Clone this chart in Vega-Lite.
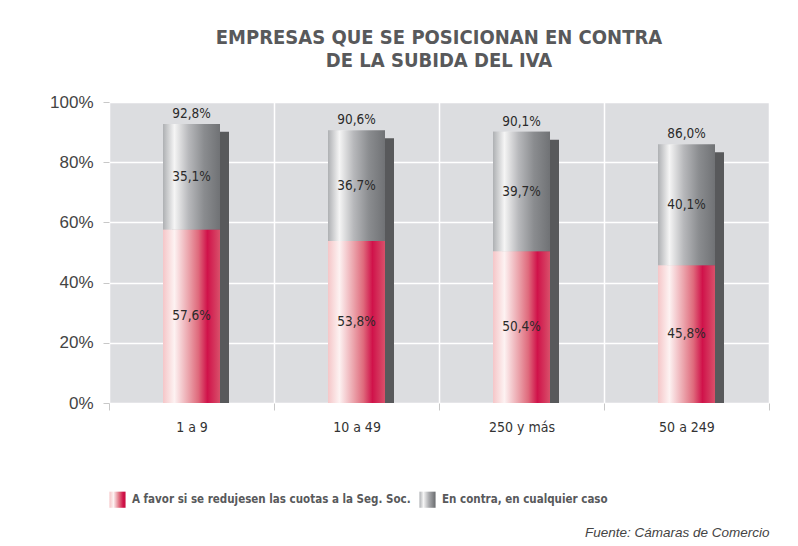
{
  "$schema": "https://vega.github.io/schema/vega-lite/v6.json",
  "background": "white",
  "padding": {"left": 49, "top": 28, "right": 25, "bottom": 8},
  "config": {
    "locale": {"number": {"decimal": ",", "thousands": ".", "grouping": [3], "currency": ["", " €"]}},
    "view": {"fill": "#dcdde0", "stroke": null},
    "axis": {"domain": false}
  },
  "title": {"text": "Fuente: Cámaras de Comercio", "orient": "bottom", "anchor": "end", "font": "Liberation Sans", "fontStyle": "italic", "fontWeight": "normal", "fontSize": 13.5, "color": "#444444", "offset": 18},
  "datasets": {
    "shares": [
      {"cat": "1 a 9", "series": "A favor si se redujesen las cuotas a la Seg. Soc.", "value": 0.576},
      {"cat": "1 a 9", "series": "En contra, en cualquier caso", "value": 0.351},
      {"cat": "10 a 49", "series": "A favor si se redujesen las cuotas a la Seg. Soc.", "value": 0.538},
      {"cat": "10 a 49", "series": "En contra, en cualquier caso", "value": 0.367},
      {"cat": "250 y más", "series": "A favor si se redujesen las cuotas a la Seg. Soc.", "value": 0.504},
      {"cat": "250 y más", "series": "En contra, en cualquier caso", "value": 0.397},
      {"cat": "50 a 249", "series": "A favor si se redujesen las cuotas a la Seg. Soc.", "value": 0.458},
      {"cat": "50 a 249", "series": "En contra, en cualquier caso", "value": 0.401}
    ],
    "totals": [
      {"cat": "1 a 9", "total": 0.928},
      {"cat": "10 a 49", "total": 0.906},
      {"cat": "250 y más", "total": 0.901},
      {"cat": "50 a 249", "total": 0.860}
    ]
  },
  "vconcat": [
    {
      "width": 660,
      "height": 301,
      "title": {"text": ["EMPRESAS QUE SE POSICIONAN EN CONTRA", "DE LA SUBIDA DEL IVA"], "frame": "group", "anchor": "middle", "font": "DejaVu Sans Condensed", "fontSize": 20, "fontWeight": "bold", "color": "#58595b", "lineHeight": 23, "offset": 22},
      "layer": [
        {
          "data": {"name": "totals"},
          "mark": {"type": "bar", "width": 57, "xOffset": 9, "yOffset": 8, "clip": true, "color": "#58595b"},
          "encoding": {
            "x": {"field": "cat", "type": "nominal", "title": null, "sort": ["1 a 9", "10 a 49", "250 y más", "50 a 249"],
                  "scale": {"paddingInner": 0, "paddingOuter": 0},
                  "axis": {"grid": true, "tickBand": "extent", "gridColor": "white", "gridWidth": 1.5, "labelAngle": 0, "labelFont": "DejaVu Sans Condensed", "labelFontSize": 14, "labelColor": "#333333", "tickColor": "#c8c8c8", "tickSize": 7, "labelPadding": 10}},
            "y": {"field": "total", "type": "quantitative", "title": null, "scale": {"domain": [0, 1]},
                  "axis": {"values": [0, 0.2, 0.4, 0.6, 0.8, 1], "format": ".0%", "gridColor": "white", "gridWidth": 1.5, "labelFont": "Liberation Sans", "labelFontSize": 17, "labelColor": "#444444", "tickColor": "#c8c8c8", "tickSize": 6, "labelPadding": 10}}
          }
        },
        {
          "data": {"name": "shares"},
          "mark": {"type": "bar", "width": 57},
          "encoding": {
            "x": {"field": "cat", "type": "nominal", "title": null, "sort": ["1 a 9", "10 a 49", "250 y más", "50 a 249"]},
            "y": {"field": "value", "type": "quantitative", "title": null, "stack": "zero"},
            "order": {"field": "series", "sort": "ascending"},
            "color": {"field": "series", "type": "nominal", "title": null,
              "scale": {"domain": ["A favor si se redujesen las cuotas a la Seg. Soc.", "En contra, en cualquier caso"],
                "range": [
                  {"expr": "{gradient: 'linear', x1: 0, y1: 0, x2: 1, y2: 0, stops: [{offset: 0, color: '#f5c6c8'}, {offset: 0.25, color: '#fdf2f2'}, {offset: 0.6, color: '#e07080'}, {offset: 0.85, color: '#d0124a'}, {offset: 1, color: '#c81040'}]}"},
                  {"expr": "{gradient: 'linear', x1: 0, y1: 0, x2: 1, y2: 0, stops: [{offset: 0, color: '#aeb0b3'}, {offset: 0.25, color: '#f5f5f5'}, {offset: 0.6, color: '#a8a9ac'}, {offset: 1, color: '#6a6c6f'}]}"}
                ]},
              "legend": {"orient": "bottom", "direction": "horizontal", "title": null, "symbolType": "square", "symbolSize": 260, "symbolStrokeWidth": 0,
                "labelFont": "DejaVu Sans Condensed", "labelFontWeight": "bold", "labelFontSize": 11.5, "labelColor": "#58595b", "labelLimit": 400, "columnPadding": 8, "labelOffset": 6, "offset": 57}}
          }
        },
        {
          "data": {"name": "shares"},
          "transform": [
            {"stack": "value", "groupby": ["cat"], "sort": [{"field": "series", "order": "ascending"}], "as": ["v0", "v1"]},
            {"filter": "indexof(datum.series, 'A favor') === 0"}
          ],
          "mark": {"type": "bar", "width": 57, "color": {"gradient": "linear", "x1": 0, "y1": 0, "x2": 1, "y2": 0, "stops": [
                    {"offset": 0, "color": "#f5c6c8"}, {"offset": 0.2, "color": "#fdf2f2"}, {"offset": 0.45, "color": "#eba3ab"},
                    {"offset": 0.62, "color": "#df6a7c"}, {"offset": 0.78, "color": "#d0124a"}, {"offset": 1, "color": "#d8506a"}]}},
          "encoding": {
            "x": {"field": "cat", "type": "nominal", "title": null, "sort": ["1 a 9", "10 a 49", "250 y más", "50 a 249"]},
            "y": {"field": "v1", "type": "quantitative", "title": null},
            "y2": {"field": "v0"}
          }
        },
        {
          "data": {"name": "shares"},
          "transform": [
            {"stack": "value", "groupby": ["cat"], "sort": [{"field": "series", "order": "ascending"}], "as": ["v0", "v1"]},
            {"filter": "indexof(datum.series, 'En contra') === 0"}
          ],
          "mark": {"type": "bar", "width": 57, "color": {"gradient": "linear", "x1": 0, "y1": 0, "x2": 1, "y2": 0, "stops": [
                    {"offset": 0, "color": "#aeb0b3"}, {"offset": 0.2, "color": "#f5f5f5"}, {"offset": 0.45, "color": "#b7b8bb"},
                    {"offset": 0.72, "color": "#8a8c8f"}, {"offset": 1, "color": "#707275"}]}},
          "encoding": {
            "x": {"field": "cat", "type": "nominal", "title": null, "sort": ["1 a 9", "10 a 49", "250 y más", "50 a 249"]},
            "y": {"field": "v1", "type": "quantitative", "title": null},
            "y2": {"field": "v0"}
          }
        },
        {
          "data": {"name": "shares"},
          "transform": [
            {"stack": "value", "groupby": ["cat"], "sort": [{"field": "series", "order": "ascending"}], "as": ["v0", "v1"]},
            {"fold": ["v0", "v1"], "as": ["edge", "pos"]},
            {"aggregate": [{"op": "mean", "field": "pos", "as": "mid"}], "groupby": ["cat", "series", "value"]}
          ],
          "mark": {"type": "text", "font": "DejaVu Sans Condensed", "fontSize": 13.5, "color": "#2a2a2a", "baseline": "middle"},
          "encoding": {
            "x": {"field": "cat", "type": "nominal", "title": null, "sort": ["1 a 9", "10 a 49", "250 y más", "50 a 249"]},
            "y": {"field": "mid", "type": "quantitative", "title": null},
            "text": {"field": "value", "type": "quantitative", "format": ".1%"}
          }
        },
        {
          "data": {"name": "totals"},
          "mark": {"type": "text", "font": "DejaVu Sans Condensed", "fontSize": 13.5, "color": "#2a2a2a", "baseline": "alphabetic", "dy": -6},
          "encoding": {
            "x": {"field": "cat", "type": "nominal", "title": null, "sort": ["1 a 9", "10 a 49", "250 y más", "50 a 249"]},
            "y": {"field": "total", "type": "quantitative", "title": null},
            "text": {"field": "total", "type": "quantitative", "format": ".1%"}
          }
        }
      ]
    }
  ]
}
